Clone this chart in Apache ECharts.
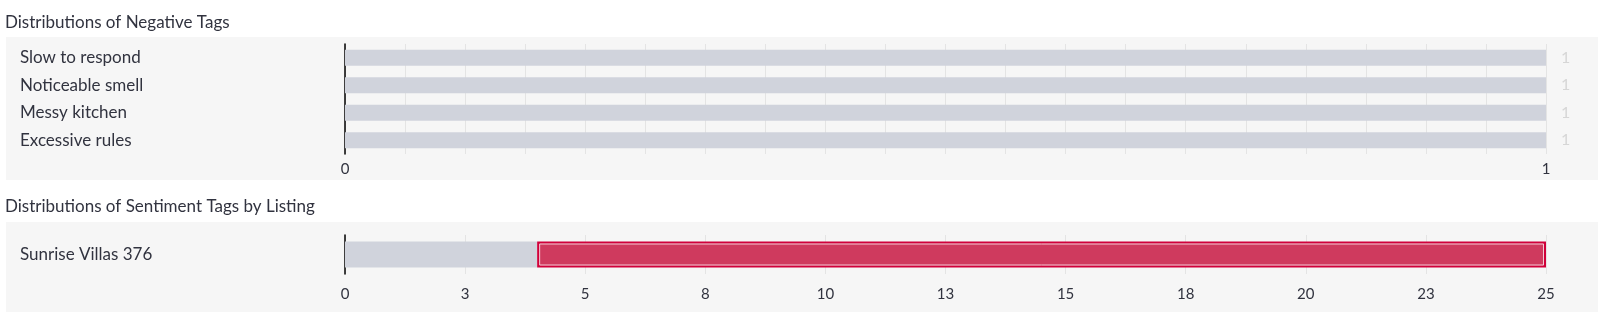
<!DOCTYPE html>
<html>
<head>
<meta charset="utf-8">
<script src="https://cdn.jsdelivr.net/npm/echarts@6/dist/echarts.min.js"></script>
<style>
html,body{margin:0;padding:0;background:#fff;}
#chart{width:1600px;height:316px;}
</style>
</head>
<body>
<div id="chart"></div>
<script>
// ---- data ----
const negTitle = 'Distributions of Negative Tags';
const negCategories = ['Slow to respond', 'Noticeable smell', 'Messy kitchen', 'Excessive rules'];
const negValues = [1, 1, 1, 1];
const negTickLabels = ['0', '1'];

const sentTitle = 'Distributions of Sentiment Tags by Listing';
const sentCategories = ['Sunrise Villas 376'];
const sentGray = [4];
const sentRed = [21];
const sentTickLabels = ['0', '3', '5', '8', '10', '13', '15', '18', '20', '23', '25'];

const FONT = 'Lato';
const RED_BAR_WIDTH = 26;
const chart = echarts.init(document.getElementById('chart'), null, {renderer: 'canvas'});

// inner highlight outline for the red bar, positioned through the axis scales
const redSpans = sentCategories.map((c, i) => [sentGray[i], sentGray[i] + sentRed[i], i]);

chart.setOption({
  backgroundColor: '#ffffff',
  animation: false,
  textStyle: {fontFamily: FONT},
  title: [
    {text: negTitle, left: 0, top: 9, textStyle: {fontFamily: FONT, fontSize: 17, fontWeight: 'normal', color: '#31333f'}},
    {text: sentTitle, left: 0, top: 193, textStyle: {fontFamily: FONT, fontSize: 17, fontWeight: 'normal', color: '#31333f'}}
  ],
  graphic: [
    {type: 'rect', z: -10, shape: {x: 6, y: 37, width: 1592, height: 143}, style: {fill: '#f6f6f6'}, silent: true},
    {type: 'rect', z: -10, shape: {x: 6, y: 222, width: 1592, height: 90}, style: {fill: '#f6f6f6'}, silent: true}
  ],
  grid: [
    {left: 345, right: 54, top: 44, height: 110, containLabel: false},
    {left: 345, right: 54, top: 235, height: 39, containLabel: false}
  ],
  xAxis: [
    {
      type: 'value', gridIndex: 0, min: 0, max: 1, interval: 0.05,
      axisLine: {show: false}, axisTick: {show: false},
      splitLine: {show: true, lineStyle: {color: '#e4e4e4', width: 1}},
      axisLabel: {
        margin: 8, fontSize: 15, color: '#31333f', fontFamily: FONT,
        formatter: function (v) {
          if (Math.abs(v - 0) < 1e-9) return negTickLabels[0];
          if (Math.abs(v - 1) < 1e-9) return negTickLabels[1];
          return '';
        }
      }
    },
    {
      type: 'value', gridIndex: 1, min: 0, max: 25, interval: 2.5,
      axisLine: {show: false}, axisTick: {show: false},
      splitLine: {show: true, lineStyle: {color: '#e4e4e4', width: 1}},
      axisLabel: {
        margin: 13, fontSize: 15, color: '#31333f', fontFamily: FONT,
        formatter: function (v) {
          const i = Math.round(v / 2.5);
          return sentTickLabels[i] !== undefined ? sentTickLabels[i] : '';
        }
      }
    }
  ],
  yAxis: [
    {
      type: 'category', gridIndex: 0, data: negCategories, inverse: true,
      axisLine: {show: true, lineStyle: {color: '#000', width: 1.5}},
      axisTick: {show: false},
      axisLabel: {
        align: 'left', margin: 325, fontSize: 17, color: '#31333f', fontFamily: FONT
      }
    },
    {
      type: 'category', gridIndex: 1, data: sentCategories, inverse: true,
      axisLine: {show: true, lineStyle: {color: '#000', width: 1.5}},
      axisTick: {show: false},
      axisLabel: {
        align: 'left', margin: 325, fontSize: 17, color: '#31333f', fontFamily: FONT
      }
    }
  ],
  series: [
    {
      type: 'bar', xAxisIndex: 0, yAxisIndex: 0, data: negValues, barWidth: 16,
      itemStyle: {color: '#d0d3dc'},
      label: {show: true, position: 'right', distance: 15, fontSize: 16, color: '#d6d6d6', fontFamily: FONT}
    },
    {
      type: 'bar', xAxisIndex: 1, yAxisIndex: 1, data: sentGray, stack: 'sent', barWidth: RED_BAR_WIDTH,
      itemStyle: {color: '#d0d3dc'}
    },
    {
      type: 'bar', xAxisIndex: 1, yAxisIndex: 1, data: sentRed, stack: 'sent', barWidth: RED_BAR_WIDTH,
      itemStyle: {color: '#cf3a5e', borderColor: '#d0003a', borderWidth: 2}
    },
    {
      type: 'custom', xAxisIndex: 1, yAxisIndex: 1, data: redSpans, silent: true, z: 5,
      renderItem: function (params, api) {
        const p0 = api.coord([api.value(0), api.value(2)]);
        const p1 = api.coord([api.value(1), api.value(2)]);
        const inset = 2.5;
        return {
          type: 'rect',
          shape: {
            x: p0[0] + inset, y: p0[1] - RED_BAR_WIDTH / 2 + inset,
            width: p1[0] - p0[0] - inset * 2, height: RED_BAR_WIDTH - inset * 2
          },
          style: {fill: null, stroke: '#f4c9d4', lineWidth: 1}
        };
      }
    }
  ]
});
</script>
</body>
</html>
